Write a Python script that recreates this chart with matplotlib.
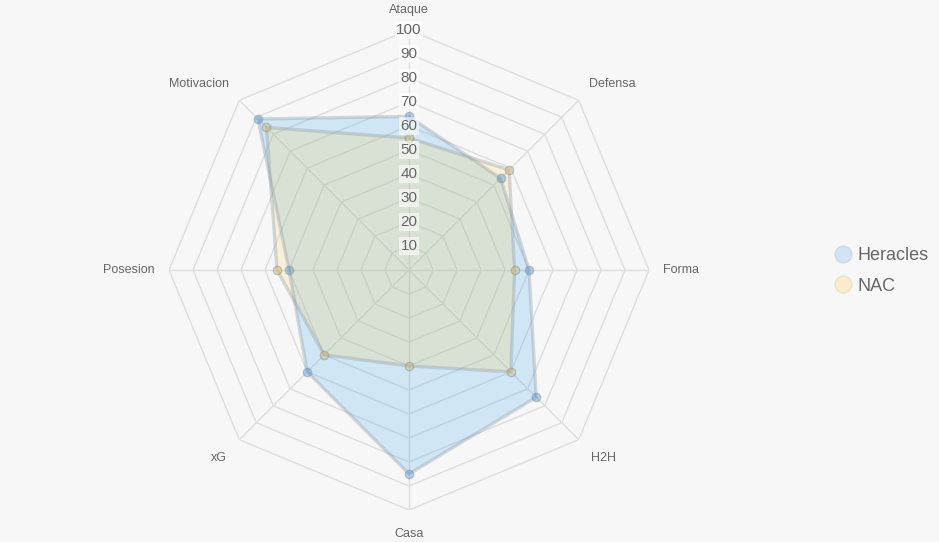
import numpy as np
import matplotlib.pyplot as plt
from matplotlib.lines import Line2D

plt.rcParams["font.family"] = ["Liberation Sans", "DejaVu Sans"]

# data
labels = ["Ataque", "Defensa", "Forma", "H2H", "Casa", "xG", "Posesion", "Motivacion"]
heracles = [64, 54, 50, 75, 85, 60, 50, 89]
nac = [55, 59, 44, 60, 40, 50, 55, 84]
ticks = [10, 20, 30, 40, 50, 60, 70, 80, 90, 100]

bg = "#f7f7f7"
txt = "#666666"
grid_c = "#dddddd"

fig = plt.figure(figsize=(9.39, 5.42), dpi=100, facecolor=bg)
ax = fig.add_axes([169 / 939, 32 / 542, 480 / 939, 480 / 542], projection="polar")
ax.set_facecolor("none")
ax.set_theta_offset(np.pi / 2)
ax.set_theta_direction(-1)
ax.set_ylim(0, 100)
ax.set_xticks([])
ax.set_yticks([])
ax.grid(False)
ax.spines["polar"].set_visible(False)

n = len(labels)
ang = np.arange(n) * 2 * np.pi / n
ang_c = np.append(ang, ang[0])

# octagonal grid
for t in ticks:
    ax.plot(ang_c, [t] * (n + 1), color=grid_c, lw=1, zorder=1)
for a in ang:
    ax.plot([a, a], [0, 100], color=grid_c, lw=1, zorder=1)

series = [
    (heracles, (0.21, 0.64, 0.92, 0.2), (0.21, 0.55, 0.85, 0.35)),
    (nac, (1.0, 0.81, 0.34, 0.2), (0.85, 0.7, 0.3, 0.35)),
]
for vals, fc, mc in series:
    v = np.append(vals, vals[0])
    ax.fill(ang_c, v, color=fc, zorder=2, lw=0)
    ax.plot(ang_c, v, color=(0.55, 0.6, 0.65, 0.35), lw=2.4, zorder=3)
    ax.plot(ang, vals, "o", ms=6, mfc=mc, mec=(0.5, 0.55, 0.6, 0.45), mew=1, zorder=4, ls="none")

# radial tick labels
for t in ticks:
    ax.text(0, t, str(t), ha="center", va="center", fontsize=11, color=txt, zorder=5,
            bbox=dict(boxstyle="square,pad=0.1", fc=(1, 1, 1, 0.6), ec="none"))

# point labels
for a, lab in zip(ang, labels):
    s, c = np.sin(a), np.cos(a)
    ha = "center" if abs(s) < 0.1 else ("left" if s > 0 else "right")
    va = "center" if abs(c) < 0.1 else ("bottom" if c > 0 else "top")
    r = 106 if c > -0.1 else 107.5
    ax.text(a, r, lab, ha=ha, va=va, fontsize=9, color=txt)

handles = [
    Line2D([], [], marker="o", ls="none", ms=12, mfc="#d2e4f3", mec="#c9dbe9", mew=1),
    Line2D([], [], marker="o", ls="none", ms=12, mfc="#f8ebcf", mec="#eee0c2", mew=1),
]
fig.legend(handles, ["Heracles", "NAC"], loc="center left", bbox_to_anchor=(816 / 939, 1 - 271 / 542),
           frameon=False, fontsize=13, labelcolor=txt, handletextpad=0.2, labelspacing=0.75,
           handlelength=1.2)

fig.savefig("out.png", dpi=100, facecolor=bg)
